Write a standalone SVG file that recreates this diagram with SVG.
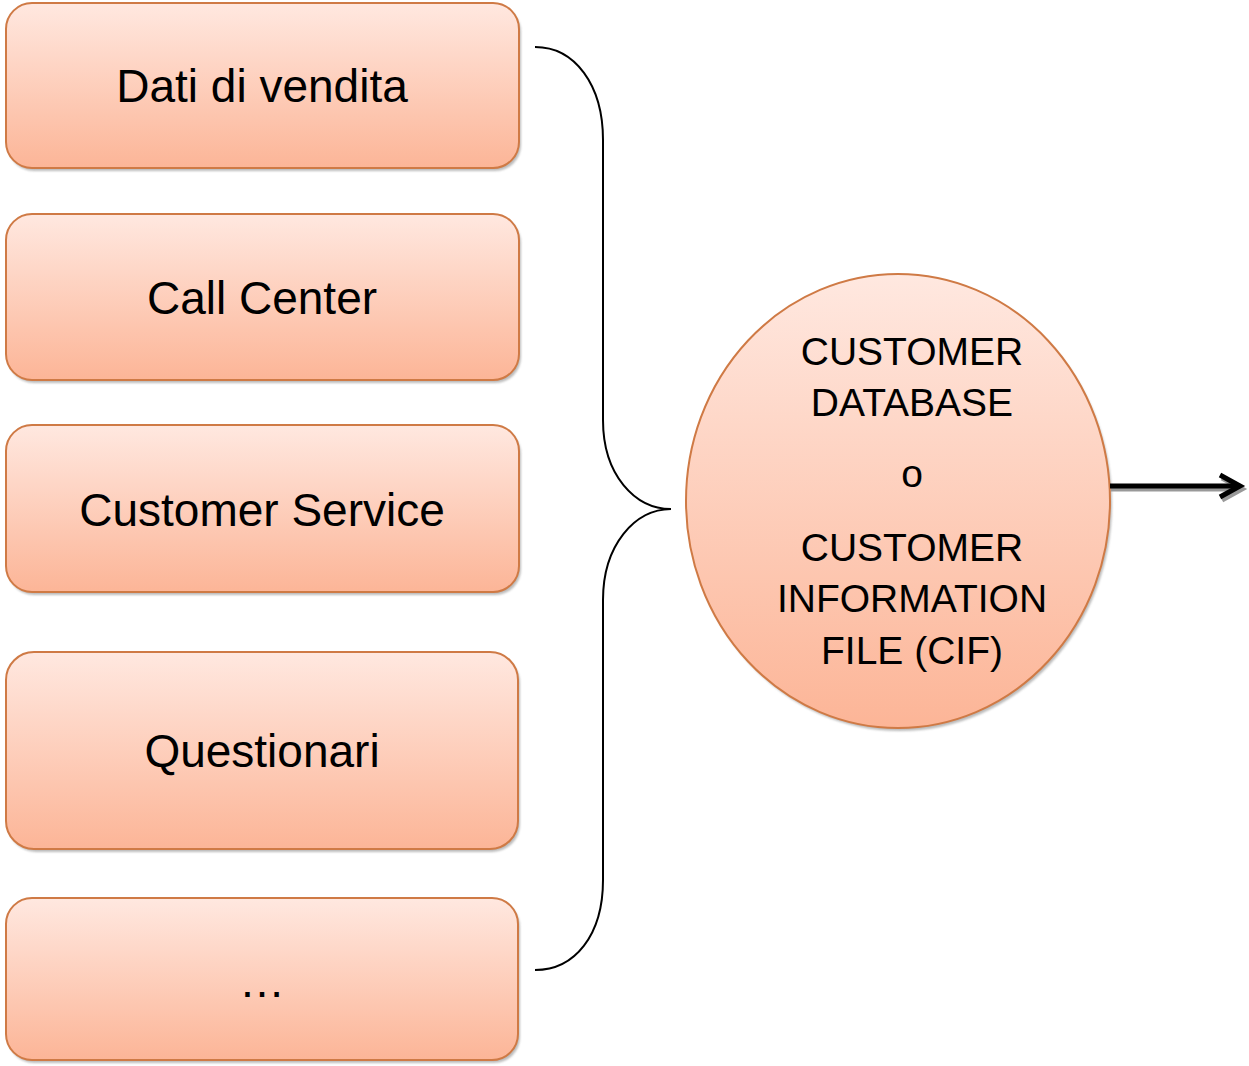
<svg xmlns="http://www.w3.org/2000/svg" width="1249" height="1066" viewBox="0 0 1249 1066">
<style>
.box{fill:url(#g);stroke:#CF7A45;stroke-width:2}
.sh{fill:#8f8f8f;opacity:0.6}
.t{font-family:"Liberation Sans",Arial,sans-serif;fill:#000;text-anchor:middle}
.bt{font-size:46px}
.ct{font-size:39px}
.con{fill:none;stroke:#000;stroke-width:2}
</style>
<defs>
<linearGradient id="g" x1="0" y1="0" x2="0" y2="1">
<stop offset="0" stop-color="#FFE8E0"/>
<stop offset="1" stop-color="#FCB597"/>
</linearGradient>
<filter id="blur" x="-5%" y="-5%" width="110%" height="110%"><feGaussianBlur stdDeviation="1"/></filter>
<marker id="ah" markerWidth="26" markerHeight="28" refX="22" refY="14" orient="auto" markerUnits="userSpaceOnUse" viewBox="0 0 26 28" overflow="visible">
<path d="M2,3 L22,14 L2,25" fill="none" stroke="#000" stroke-width="5" stroke-linejoin="miter"/>
</marker>
<marker id="ahs" markerWidth="26" markerHeight="28" refX="22" refY="14" orient="auto" markerUnits="userSpaceOnUse" viewBox="0 0 26 28" overflow="visible">
<path d="M2,3 L22,14 L2,25" fill="none" stroke="#999" stroke-width="5" stroke-linejoin="miter"/>
</marker>
</defs>
<g id="n1">
<rect class="sh" x="8" y="6" width="513" height="165" rx="26" filter="url(#blur)"/>
<rect class="box" x="6" y="3" width="513" height="165" rx="26"/>
<text class="t bt" x="262" y="102">Dati di vendita</text>
</g>
<g id="n2">
<rect class="sh" x="8" y="217" width="513" height="166" rx="26" filter="url(#blur)"/>
<rect class="box" x="6" y="214" width="513" height="166" rx="26"/>
<text class="t bt" x="262" y="314">Call Center</text>
</g>
<g id="n3">
<rect class="sh" x="8" y="428" width="513" height="167" rx="26" filter="url(#blur)"/>
<rect class="box" x="6" y="425" width="513" height="167" rx="26"/>
<text class="t bt" x="262" y="526">Customer Service</text>
</g>
<g id="n4">
<rect class="sh" x="8" y="655" width="512" height="197" rx="28" filter="url(#blur)"/>
<rect class="box" x="6" y="652" width="512" height="197" rx="28"/>
<text class="t bt" x="262" y="767">Questionari</text>
</g>
<g id="n5">
<rect class="sh" x="8" y="901" width="512" height="162" rx="26" filter="url(#blur)"/>
<rect class="box" x="6" y="898" width="512" height="162" rx="26"/>
<text class="t bt" x="262" y="997">…</text>
</g>
<g id="n6">
<ellipse class="sh" cx="900" cy="504" rx="212" ry="227" filter="url(#blur)"/>
<ellipse class="box" cx="898" cy="501" rx="212" ry="227"/>
<text class="t ct" x="912" y="365">CUSTOMER</text>
<text class="t ct" x="912" y="416">DATABASE</text>
<text class="t ct" x="912" y="487">o</text>
<text class="t ct" x="912" y="561">CUSTOMER</text>
<text class="t ct" x="912" y="612">INFORMATION</text>
<text class="t ct" x="912" y="664">FILE (CIF)</text>
</g>
<g id="connectors">
<path class="con" d="M535,47 C575,47 603,85 603,140 L603,420 C603,475 635,509 671,509 C635,509 603,545 603,600 L603,880 C603,935 575,970 535,970"/>
<line x1="1111" y1="489" x2="1242" y2="489" stroke="#999" stroke-width="5" marker-end="url(#ahs)"/>
<line x1="1110" y1="486" x2="1240" y2="486" stroke="#000" stroke-width="5" marker-end="url(#ah)"/>
</g>
</svg>
